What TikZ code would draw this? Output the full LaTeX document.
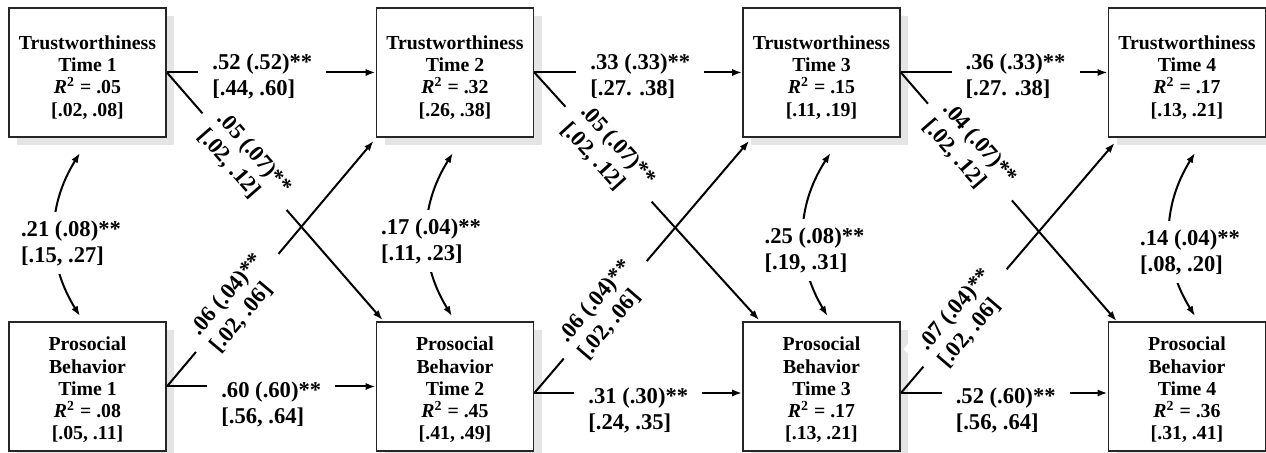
\documentclass[tikz,border=0pt]{standalone}
\usepackage{fontspec}
\setmainfont{Liberation Serif}
\usetikzlibrary{arrows.meta,calc,shadows}
\newcommand{\tpad}{\rule{0pt}{11.8pt}}
\newcommand{\ppad}{\rule{0pt}{10.4pt}}
\begin{document}
\begin{tikzpicture}[x=0.5pt,y=-0.5pt,
  box/.style={draw=black!85, line width=0.9pt, fill=white,
    minimum width=78.5pt, minimum height=64.5pt, inner sep=0pt, align=center,
    font=\fontsize{9.9pt}{11.1pt}\selectfont\bfseries,
    drop shadow={shadow xshift=4pt, shadow yshift=-4pt, fill=black!10, opacity=1}},
  conn/.style={line width=1pt, -{Latex[length=5pt,width=3.6pt]}},
  dconn/.style={line width=1pt, {Latex[length=5pt,width=3.6pt]}-{Latex[length=5pt,width=3.6pt]}},
  lbl/.style={fill=white, inner xsep=7pt, inner ysep=2pt, align=left,
    font=\fontsize{11.3pt}{13pt}\selectfont\bfseries},
  clbl/.style={lbl, inner xsep=1pt, inner ysep=4pt},
]
\useasboundingbox (0,0) rectangle (1266,453);

% boxes
\node[box] (T1) at (87.5,72.5) {\tpad Trustworthiness\\Time 1\\\textit{R}\textsuperscript{2} = .05\\{[}.02, .08{]}};
\node[box] (T2) at (455,72.5) {\tpad Trustworthiness\\Time 2\\\textit{R}\textsuperscript{2} = .32\\{[}.26, .38{]}};
\node[box] (T3) at (821.5,72.5) {\tpad Trustworthiness\\Time 3\\\textit{R}\textsuperscript{2} = .15\\{[}.11, .19{]}};
\node[box] (T4) at (1187,72.5) {\tpad Trustworthiness\\Time 4\\\textit{R}\textsuperscript{2} = .17\\{[}.13, .21{]}};
\node[box] (P1) at (87.5,386.5) {\ppad Prosocial\\Behavior\\Time 1\\\textit{R}\textsuperscript{2} = .08\\{[}.05, .11{]}};
\node[box] (P2) at (455,386.5) {\ppad Prosocial\\Behavior\\Time 2\\\textit{R}\textsuperscript{2} = .45\\{[}.41, .49{]}};
\node[box] (P3) at (821.5,386.5) {\ppad Prosocial\\Behavior\\Time 3\\\textit{R}\textsuperscript{2} = .17\\{[}.13, .21{]}};
\node[box] (P4) at (1187,386.5) {\ppad Prosocial\\Behavior\\Time 4\\\textit{R}\textsuperscript{2} = .36\\{[}.31, .41{]}};

% horizontal paths, top
\draw[conn] (T1.east) -- node[lbl, pos=0.457, yshift=-2pt] (h1t) {.52 (.52)**\\{[}.44, .60{]}} (T2.west);
\draw[conn] (T2.east) -- node[lbl, pos=0.51, yshift=-2pt] (h2t) {.33 (.33)**\\{[}.27. .38{]}} (T3.west);
\draw[conn] (T3.east) -- node[lbl, pos=0.555, yshift=-2pt] (h3t) {.36 (.33)**\\{[}.27. .38{]}} (T4.west);

% horizontal paths, bottom
\draw[conn] (P1.east) -- node[lbl, pos=0.5, yshift=-9pt] (h1b) {.60 (.60)**\\{[}.56, .64{]}} (P2.west);
\draw[conn] ($(P2.east)+(0,6.5)$) -- node[lbl, pos=0.5, yshift=-8.5pt] (h2b) {.31 (.30)**\\{[}.24, .35{]}} ($(P3.west)+(0,6.5)$);
\draw[conn] ($(P3.east)+(0,6.5)$) -- node[lbl, pos=0.507, yshift=-8.5pt] (h3b) {.52 (.60)**\\{[}.56, .64{]}} ($(P4.west)+(0,6.5)$);

% cross-lagged paths
\draw[conn] (T1.east) -- node[lbl, sloped, pos=0.36] (d1a) {.05 (.07)**\\{[}.02, .12{]}} ($(P2.north west)+(7,-1)$);
\draw[conn] (P1.east) -- node[lbl, sloped, pos=0.34] (d1b) {.06 (.04)**\\{[}.02, .06{]}} ($(T2.south west)+(-2,3)$);
\draw[conn] (T2.east) -- node[lbl, sloped, pos=0.33] (d2a) {.05 (.07)**\\{[}.02, .12{]}} ($(P3.north west)+(17,-1)$);
\draw[conn] ($(P2.east)+(0,6.5)$) -- node[lbl, sloped, pos=0.33] (d2b) {.06 (.04)**\\{[}.02, .06{]}} ($(T3.south west)+(7,3)$);
\draw[conn] (T3.east) -- node[lbl, sloped, pos=0.32] (d3a) {.04 (.07)**\\{[}.02, .12{]}} ($(P4.north west)+(9,0)$);
\draw[conn] ($(P3.east)+(0,6.5)$) -- node[lbl, sloped, pos=0.30] (d3b) {.07 (.04)**\\{[}.02, .06{]}} ($(T4.south west)+(7,5)$);

% within-time covariances
\draw[dconn] ($(T1.south)+(-7.5,15)$) to[bend right=32] ($(P1.north)+(-7.5,-5)$);
\draw[dconn] ($(T2.south)+(-2,15)$) to[bend right=32] ($(P2.north)+(-3,-5)$);
\draw[dconn] ($(T3.south)+(9,15)$) to[bend right=32] ($(P3.north)+(6,-5)$);
\draw[dconn] ($(T4.south)+(8,15)$) to[bend right=32] ($(P4.north)+(8,-5)$);
\node[clbl] (c1) at (71,243) {.21 (.08)**\\{[}.15, .27{]}};
\node[clbl] (c2) at (431,241) {.17 (.04)**\\{[}.11, .23{]}};
\node[clbl] (c3) at (814.5,250) {.25 (.08)**\\{[}.19, .31{]}};
\node[clbl] (c4) at (1190,252) {.14 (.04)**\\{[}.08, .20{]}};
\end{tikzpicture}
\end{document}
